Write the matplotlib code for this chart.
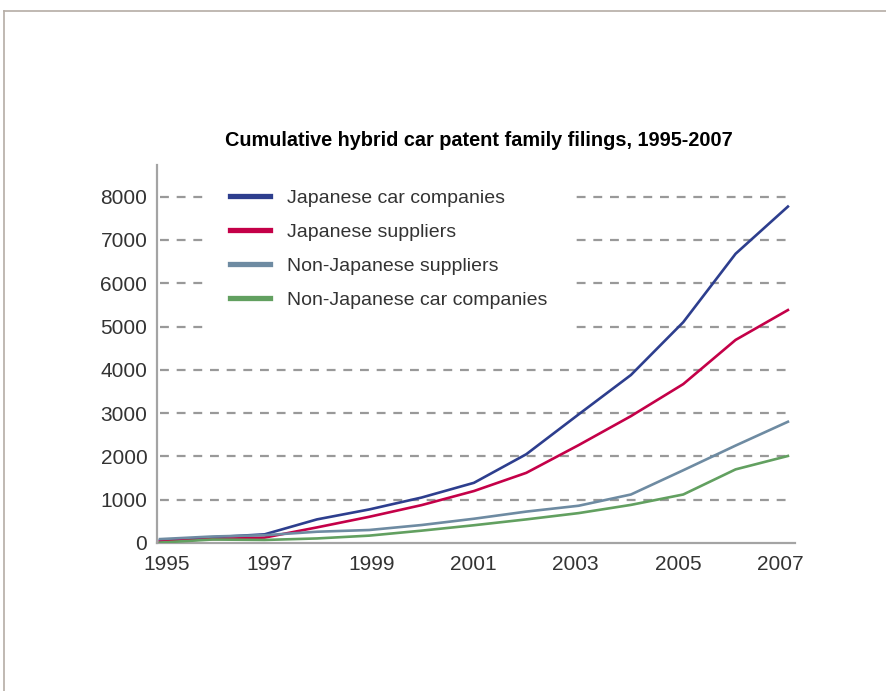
import matplotlib

matplotlib.use("Agg")
import matplotlib.pyplot as plt
from matplotlib.lines import Line2D

years = [1995, 1996, 1997, 1998, 1999, 2000, 2001, 2002, 2003, 2004, 2005, 2006, 2007]
jp_car = [60, 130, 200, 545, 775, 1050, 1390, 2050, 2970, 3880, 5100, 6680, 7770]
jp_sup = [40, 90, 125, 360, 605, 875, 1200, 1620, 2260, 2930, 3670, 4690, 5380]
nonjp_sup = [90, 150, 180, 260, 300, 415, 560, 725, 860, 1120, 1680, 2250, 2800]
nonjp_car = [10, 80, 70, 105, 170, 285, 410, 545, 690, 880, 1120, 1700, 2010]

series = [
    ("Japanese car companies", jp_car, "#2d3e8e"),
    ("Japanese suppliers", jp_sup, "#c40048"),
    ("Non-Japanese suppliers", nonjp_sup, "#6e8ba2"),
    ("Non-Japanese car companies", nonjp_car, "#62a060"),
]
y_ticks = [0, 1000, 2000, 3000, 4000, 5000, 6000, 7000, 8000]
x_ticks = [1995, 1997, 1999, 2001, 2003, 2005, 2007]

plt.rcParams["font.family"] = ["Liberation Sans", "DejaVu Sans"]

fig = plt.figure(figsize=(8.86, 6.91), dpi=100)
ax = fig.add_axes([0.1772, 0.2142, 0.720, 0.547])

# dashed guide lines, drawn under the data
ax.hlines(y_ticks[1:], years[0], years[-1], colors="#999999", linewidth=1.6,
          linestyles=(0, (4, 3.5)), zorder=1)

for label, values, color in series:
    ax.plot(years, values, color=color, linewidth=1.9, label=label, zorder=3)

ax.set_xlim(1994.943, 2007.134)
ax.set_ylim(0, 8730)
ax.set_yticks(y_ticks)
# year labels sit on a slightly tighter spacing than the data in the original
ax.set_xticks([1995.134 + (y - 1995) * 0.9765 for y in x_ticks],
              [str(y) for y in x_ticks])
ax.tick_params(length=0, labelsize=15, colors="#333333")
ax.tick_params(axis="y", pad=7)
ax.tick_params(axis="x", pad=9)
for side in ("top", "right"):
    ax.spines[side].set_visible(False)
for side in ("left", "bottom"):
    ax.spines[side].set_color("#a4a4a4")
    ax.spines[side].set_linewidth(1.6)

handles = [Line2D([0], [0], color=c, linewidth=3.8) for _, _, c in series]
leg = ax.legend(handles, [s[0] for s in series], loc="upper left",
                bbox_to_anchor=(0.0748, 1.003), fontsize=14, frameon=True,
                facecolor="white", edgecolor="none", framealpha=1,
                handlelength=2.06, handletextpad=0.87, labelspacing=0.84,
                borderpad=1.3, borderaxespad=0)
for t in leg.get_texts():
    t.set_color("#333333")
leg.set_zorder(2)

fig.text(0.54, 0.797, "Cumulative hybrid car patent family filings, 1995-2007",
         ha="center", va="center", fontsize=14.3, fontweight="bold")

# thin outer frame, top and left only
frame = "#b5ada5"
fig.add_artist(Line2D([4 / 886, 1], [1 - 11 / 691, 1 - 11 / 691],
                      transform=fig.transFigure, color=frame, linewidth=1.2))
fig.add_artist(Line2D([4 / 886, 4 / 886], [0, 1 - 11 / 691],
                      transform=fig.transFigure, color=frame, linewidth=1.2))

fig.savefig("out.png", dpi=100)
